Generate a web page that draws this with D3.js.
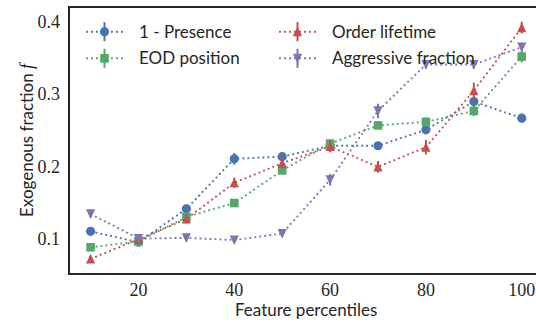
<!DOCTYPE html>
<html>
<head>
<meta charset="utf-8">
<script src="https://cdn.jsdelivr.net/npm/d3@7"></script>
<style>
  html, body { margin: 0; padding: 0; background: #fff; }
  svg { display: block; }
</style>
</head>
<body>
<svg id="chart" width="536" height="326"></svg>
<script>
/* --- data --- */
var percentiles = [10, 20, 30, 40, 50, 60, 70, 80, 90, 100];

var presence    = [0.111, 0.096, 0.142, 0.211, 0.214, 0.229, 0.229, 0.251, 0.290, 0.267];
var presenceErr = [0.005, 0.004, 0.006, 0.008, 0.006, 0.006, 0.005, 0.006, 0.007, 0.006];

var eodPosition = [0.089, 0.097, 0.131, 0.150, 0.195, 0.232, 0.257, 0.262, 0.277, 0.352];
var eodErr      = [0.004, 0.004, 0.005, 0.005, 0.005, 0.005, 0.005, 0.006, 0.007, 0.008];

var lifetime    = [0.073, 0.100, 0.128, 0.178, 0.205, 0.228, 0.200, 0.227, 0.305, 0.392];
var lifetimeErr = [0.005, 0.005, 0.006, 0.007, 0.007, 0.008, 0.008, 0.010, 0.011, 0.008];

var aggressive    = [0.135, 0.101, 0.102, 0.099, 0.108, 0.182, 0.277, 0.341, 0.341, 0.365];
var aggressiveErr = [0.005, 0.004, 0.004, 0.004, 0.005, 0.008, 0.010, 0.006, 0.006, 0.006];

var seriesNames = ["1 - Presence", "EOD position", "Order lifetime", "Aggressive fraction"];
var xTicks = [20, 40, 60, 80, 100];
var yTicks = [0.1, 0.2, 0.3, 0.4];

/* --- layout --- */
var svg = d3.select("#chart");
// note: "top" is taken by window.top, so the plot box uses its own names
var plotL = 69, plotR = 543.3, plotT = 7, plotB = 274;

var x = d3.scaleLinear().domain([5.5, 104.5]).range([plotL, plotR]);
var y = d3.scaleLinear().domain([0.0522, 0.4203]).range([plotB, plotT]);

var colors = ["#4C72B0", "#55A868", "#C44E52", "#8172B2"];
var shapes = ["circle", "square", "up", "down"];
var values = [presence, eodPosition, lifetime, aggressive];
var errors = [presenceErr, eodErr, lifetimeErr, aggressiveErr];

var serifFont = "'Liberation Serif', 'DejaVu Serif', serif";
var sansFont = "Lato, 'Noto Sans', sans-serif";

// marker path centred on its bounding box (like matplotlib)
function markerPath(shape){
    var s = 4.6;
    if(shape == "circle") return d3.symbol(d3.symbolCircle, Math.PI*s*s)();
    if(shape == "square") return "M-4.3,-4.3H4.3V4.3H-4.3Z";
    if(shape == "up") return "M0,-" + (s+0.4) + "L" + s + "," + s + "L-" + s + "," + s + "Z";
    return "M0," + (s+0.4) + "L" + s + ",-" + s + "L-" + s + ",-" + s + "Z";
}

/* --- series --- */
var line = d3.line().x(d => x(d.x)).y(d => y(d.y));

values.forEach(function(vals, i){
    var pts = percentiles.map((p, j) => ({x: p, y: vals[j], e: errors[i][j]}));
    var g = svg.append("g");

    g.append("path")
        .datum(pts)
        .attr("d", line)
        .attr("fill", "none")
        .attr("stroke", colors[i])
        .attr("stroke-width", 1.9)
        .attr("stroke-dasharray", "1.9,3.1");

    g.selectAll("line.err")
        .data(pts)
        .join("line")
        .attr("class", "err")
        .attr("x1", d => x(d.x))
        .attr("x2", d => x(d.x))
        .attr("y1", d => y(d.y - d.e))
        .attr("y2", d => y(d.y + d.e))
        .attr("stroke", colors[i])
        .attr("stroke-width", 2);

    g.selectAll("path.mark")
        .data(pts)
        .join("path")
        .attr("class", "mark")
        .attr("d", markerPath(shapes[i]))
        .attr("transform", d => "translate(" + x(d.x) + "," + y(d.y) + ")")
        .attr("fill", colors[i]);
});

/* --- spines (right one falls outside the picture) --- */
svg.append("rect")
    .attr("x", plotL)
    .attr("y", plotT)
    .attr("width", plotR - plotL)
    .attr("height", plotB - plotT)
    .attr("fill", "none")
    .attr("stroke", "#262626")
    .attr("stroke-width", 2);

/* --- tick labels --- */
svg.append("g")
    .selectAll("text")
    .data(xTicks)
    .join("text")
    .attr("x", d => x(d))
    .attr("y", 296)
    .attr("text-anchor", "middle")
    .attr("font-family", serifFont)
    .attr("font-size", 18)
    .attr("fill", "#262626")
    .text(d => d);

svg.append("g")
    .selectAll("text")
    .data(yTicks)
    .join("text")
    .attr("x", 60)
    .attr("y", d => y(d) + 6)
    .attr("text-anchor", "end")
    .attr("font-family", serifFont)
    .attr("font-size", 18)
    .attr("fill", "#262626")
    .text(d => d3.format(".1f")(d));

/* --- axis labels --- */
svg.append("text")
    .attr("x", (plotL + plotR)/2)
    .attr("y", 316)
    .attr("text-anchor", "middle")
    .attr("font-family", sansFont)
    .attr("font-size", 17)
    .attr("fill", "#262626")
    .text("Feature percentiles");

var ylab = svg.append("text")
    .attr("transform", "translate(33," + ((plotT + plotB)/2) + ") rotate(-90)")
    .attr("text-anchor", "middle")
    .attr("font-family", sansFont)
    .attr("font-size", 17)
    .attr("fill", "#262626");
ylab.append("tspan").text("Exogenous fraction ");
ylab.append("tspan")
    .attr("font-family", serifFont)
    .attr("font-style", "italic")
    .attr("font-size", 18)
    .text("f");

/* --- legend (2 columns) --- */
var legendPos = [[86, 31.7], [86, 58.3], [279, 31.7], [279, 58.3]];

seriesNames.forEach(function(name, i){
    var lx = legendPos[i][0], ly = legendPos[i][1];
    var g = svg.append("g").attr("transform", "translate(" + lx + "," + ly + ")");
    g.append("line")
        .attr("x1", 0).attr("x2", 38)
        .attr("y1", 0).attr("y2", 0)
        .attr("stroke", colors[i])
        .attr("stroke-width", 1.9)
        .attr("stroke-dasharray", "1.9,3.1");
    g.append("line")
        .attr("x1", 18.5).attr("x2", 18.5)
        .attr("y1", -9.5).attr("y2", 9.5)
        .attr("stroke", colors[i])
        .attr("stroke-width", 2);
    g.append("path")
        .attr("d", markerPath(shapes[i]))
        .attr("transform", "translate(18.5,0)")
        .attr("fill", colors[i]);
    g.append("text")
        .attr("x", 53)
        .attr("y", 5.8)
        .attr("font-family", sansFont)
        .attr("font-size", 17)
        .attr("fill", "#262626")
        .text(name);
});
</script>
</body>
</html>
